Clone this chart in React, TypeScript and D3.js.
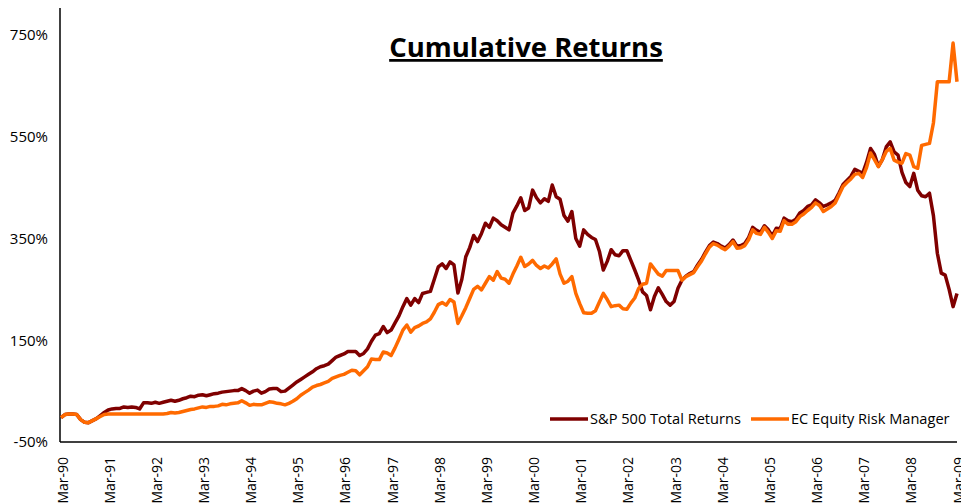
import { useEffect, useRef } from 'react'
import * as d3 from 'd3'

// year labels on the x axis, one per 12 months (Mar-90 .. Mar-09)
const tickLabels = ['Mar-90', 'Mar-91', 'Mar-92', 'Mar-93', 'Mar-94', 'Mar-95', 'Mar-96', 'Mar-97', 'Mar-98', 'Mar-99',
  'Mar-00', 'Mar-01', 'Mar-02', 'Mar-03', 'Mar-04', 'Mar-05', 'Mar-06', 'Mar-07', 'Mar-08', 'Mar-09']

const yTicks = [-50, 150, 350, 550, 750]

// monthly cumulative returns in %
const sp500 = [
  -2, 4, 5, 5, 4, -6, -11, -12, -8, -4, 2, 8,
  13, 15, 16, 16, 19, 18, 19, 18, 15, 27, 27, 26,
  28, 26, 28, 30, 32, 30, 32, 35, 37, 40, 39, 42,
  43, 41, 43, 45, 46, 48, 49, 50, 51, 51, 55, 51,
  46, 50, 52, 46, 49, 54, 55, 55, 49, 50, 56, 62,
  68, 73, 78, 83, 88, 94, 98, 100, 103, 110, 117, 120,
  123, 128, 128, 128, 120, 124, 133, 148, 160, 163, 177, 165,
  170, 184, 198, 216, 232, 219, 232, 224, 242, 244, 246, 270,
  294, 300, 291, 304, 298, 243, 270, 314, 332, 356, 344, 360,
  380, 372, 390, 385, 377, 372, 367, 400, 414, 430, 405, 410,
  445, 430, 420, 428, 423, 455, 432, 427, 395, 384, 403, 350,
  335, 367, 358, 352, 348, 325, 288, 305, 328, 318, 316, 326,
  326, 307, 288, 268, 245, 238, 210, 236, 253, 240, 226, 219,
  226, 252, 268, 276, 281, 285, 298, 309, 323, 336, 343, 340,
  335, 331, 338, 347, 335, 336, 340, 352, 372, 366, 362, 375,
  367, 355, 370, 369, 390, 385, 383, 388, 400, 405, 413, 416,
  426, 420, 413, 416, 420, 425, 440, 456, 464, 472, 486, 482,
  478, 500, 527, 515, 492, 505, 530, 540, 520, 514, 480, 460,
  452, 478, 445, 434, 432, 439, 395, 321, 282, 278, 250, 216, 242,
]

const ecErm = [
  -2, 4, 5, 5, 4, -6, -11, -12, -8, -4, 0, 4,
  5, 5, 5, 5, 5, 5, 5, 5, 5, 5, 5, 5,
  5, 5, 5, 6, 8, 7, 8, 10, 12, 14, 15, 17,
  19, 18, 20, 20, 21, 24, 23, 25, 26, 27, 31, 27,
  22, 24, 23, 23, 26, 29, 28, 26, 25, 23, 26, 30,
  35, 42, 47, 52, 58, 61, 63, 66, 69, 75, 78, 81,
  83, 87, 91, 90, 82, 90, 98, 113, 112, 112, 127, 125,
  120, 135, 152, 170, 180, 166, 175, 178, 183, 186, 192, 205,
  220, 224, 219, 230, 225, 183, 198, 214, 232, 250, 256, 249,
  262, 275, 268, 285, 272, 270, 262, 280, 296, 313, 295, 300,
  307, 297, 291, 296, 292, 300, 310, 280, 262, 266, 275, 242,
  222, 204, 203, 203, 208, 225, 242, 230, 216, 218, 219, 212,
  211, 223, 233, 252, 260, 262, 300, 290, 280, 276, 287, 287,
  287, 287, 268, 275, 279, 283, 295, 306, 320, 333, 340, 337,
  332, 328, 335, 344, 331, 332, 336, 348, 367, 360, 358, 372,
  362, 350, 365, 364, 385, 378, 378, 383, 393, 398, 405, 411,
  420, 415, 403, 408, 413, 420, 436, 452, 460, 467, 476, 478,
  470, 490, 518, 505, 491, 505, 521, 527, 504, 500, 498, 517,
  514, 491, 488, 533, 535, 537, 577, 658, 658, 658, 658, 734, 658,
]

const FONT = '"Open Sans", "DejaVu Sans", sans-serif'

const App = () => {
  const svgRef = useRef<SVGSVGElement>(null)

  useEffect(() => {
    if (!svgRef.current) return

    const width = 961
    const height = 503
    const left = 60
    const right = 957
    const top = 8
    const bottom = 442

    const svg = d3.select(svgRef.current)
    svg.selectAll('*').remove()
    svg.attr('width', width).attr('height', height)

    const n = sp500.length - 1
    const xScale = d3.scaleLinear().domain([0, n]).range([left + 1, right])
    const yScale = d3.scaleLinear().domain([-50, 803]).range([bottom, top])

    // title
    svg.append('text')
      .attr('x', 526)
      .attr('y', 57)
      .attr('text-anchor', 'middle')
      .attr('font-family', FONT)
      .attr('font-weight', 'bold')
      .attr('font-size', '27.5px')
      .attr('text-decoration', 'underline')
      .attr('fill', '#000')
      .text('Cumulative Returns')

    // y axis
    const yAxis = d3.axisLeft(yScale)
      .tickValues(yTicks)
      .tickSize(0)
      .tickPadding(12)
      .tickFormat(d => `${d}%`)

    const gy = svg.append('g')
      .attr('transform', `translate(${left},0)`)
      .call(yAxis)
    gy.select('.domain').remove()
    gy.selectAll('text')
      .attr('font-family', FONT)
      .attr('font-size', '15px')
      .attr('fill', '#000')

    svg.append('line')
      .attr('x1', left).attr('x2', left)
      .attr('y1', top).attr('y2', bottom)
      .attr('stroke', '#000')
      .attr('stroke-width', 1.5)

    // x axis
    const xAxis = d3.axisBottom(xScale)
      .tickValues(tickLabels.map((_, i) => i * 12))
      .tickSize(0)
      .tickFormat(i => tickLabels[Math.round(+i / 12)])

    const gx = svg.append('g')
      .attr('transform', `translate(0,${bottom})`)
      .call(xAxis)
    gx.select('.domain').remove()
    gx.selectAll('text')
      .attr('font-family', FONT)
      .attr('font-size', '14px')
      .attr('fill', '#000')
      .attr('text-anchor', 'end')
      .attr('dy', null)
      .attr('y', 0)
      .attr('x', 0)
      .attr('transform', 'translate(6,15) rotate(-90)')

    svg.append('line')
      .attr('x1', left).attr('x2', right)
      .attr('y1', bottom).attr('y2', bottom)
      .attr('stroke', '#000')
      .attr('stroke-width', 1.5)

    // lines
    const line = d3.line<number>()
      .x((_, i) => xScale(i))
      .y(d => yScale(d))

    svg.append('path')
      .datum(sp500)
      .attr('fill', 'none')
      .attr('stroke', '#7f0000')
      .attr('stroke-width', 3.5)
      .attr('stroke-linejoin', 'round')
      .attr('d', line)

    svg.append('path')
      .datum(ecErm)
      .attr('fill', 'none')
      .attr('stroke', '#ff6a00')
      .attr('stroke-width', 3.5)
      .attr('stroke-linejoin', 'round')
      .attr('d', line)

    // legend
    const legend = [
      { name: 'S&P 500 Total Returns', color: '#7f0000', x: 550 },
      { name: 'EC Equity Risk Manager', color: '#ff6a00', x: 751 },
    ]
    const lg = svg.append('g').attr('transform', 'translate(0,419)')
    legend.forEach(l => {
      lg.append('line')
        .attr('x1', l.x).attr('x2', l.x + 38)
        .attr('y1', 0).attr('y2', 0)
        .attr('stroke', l.color)
        .attr('stroke-width', 3.5)
      lg.append('text')
        .attr('x', l.x + 40)
        .attr('y', 0)
        .attr('dy', '0.35em')
        .attr('font-family', FONT)
        .attr('font-size', '14.6px')
        .attr('fill', '#000')
        .text(l.name)
    })
  }, [])

  return (
    <svg ref={svgRef} style={{ position: 'absolute', left: 0, top: 0, background: '#fff' }}></svg>
  )
}

export default App
